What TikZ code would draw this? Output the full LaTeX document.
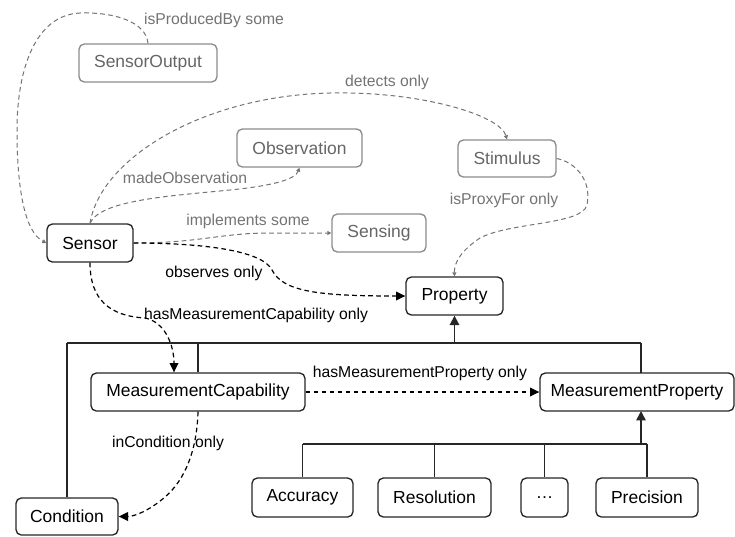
\documentclass[tikz,border=0pt]{standalone}
\usepackage{fontspec}
\setmainfont{Liberation Sans}
\usetikzlibrary{arrows.meta,calc}
\begin{document}
\begin{tikzpicture}[x=0.75pt,y=-0.75pt,
 box/.style={draw=black!85,line width=1pt,rounded corners=4pt,fill=white,font=\fontsize{13.1}{15}\selectfont,inner sep=0pt,text=black,minimum height=28.5pt},
 gbox/.style={box,draw=black!45,text=black!60},
 lbl/.style={font=\fontsize{11.8}{14}\selectfont,inner sep=0pt,text=black},
 glbl/.style={lbl,text=black!55},
 gdash/.style={draw=black!55,line width=0.75pt,dash pattern=on 3.5pt off 2.5pt,-{Triangle[length=3pt,width=3pt]}},
 bdash/.style={draw=black,line width=0.9pt,dash pattern=on 3.5pt off 2.5pt,-{Triangle[length=7pt,width=6.5pt]}},
 sline/.style={draw=black!85,line width=0.8pt},
 tline/.style={draw=black!85,line width=1.3pt},
 sarrow/.style={draw=black!85,line width=1.3pt,-{Triangle[length=7pt,width=7pt]}},
]
\useasboundingbox (0,0) rectangle (735,536);

% nodes
\node[gbox,minimum width=103.5pt] (sout) at (148,63) {SensorOutput};
\node[gbox,minimum width=93.75pt] (obs) at (299.5,148) {Observation};
\node[gbox,minimum width=73.5pt,minimum height=27.75pt] (stim) at (507,158.5) {Stimulus};
\node[gbox,minimum width=70.5pt] (sens) at (379,233) {Sensing};
\node[box,minimum width=64.5pt] (sensor) at (90,243) {Sensor};
\node[box,minimum width=72.75pt] (prop) at (454.5,296) {Property};
\node[box,minimum width=160.5pt] (mc) at (198,392) {MeasurementCapability};
\node[box,minimum width=145.5pt] (mp) at (637,392) {MeasurementProperty};
\node[box,minimum width=76.5pt,minimum height=27.75pt] (cond) at (67,516.5) {Condition};
\node[box,minimum width=75.75pt,minimum height=29.25pt] (acc) at (302.5,497.5) {Accuracy};
\node[box,minimum width=84.75pt,minimum height=29.25pt] (res) at (434.5,497.5) {Resolution};
\node[box,minimum width=35.25pt,minimum height=29.25pt] (dots) at (544.5,497.5) {…};
\node[box,minimum width=76.5pt,minimum height=29.25pt] (prec) at (647,497.5) {Precision};

% labels
\node[glbl] (lprod) at (214,20) {isProducedBy some};
\node[glbl] (ldet) at (387,82) {detects only};
\node[glbl] (lobs) at (185,178) {madeObservation};
\node[glbl] (limp) at (248,221) {implements some};
\node[glbl] (lprox) at (504,200) {isProxyFor only};
\node[lbl] (lobserves) at (214,273) {observes only};
\node[lbl] (lhmc) at (256,315) {hasMeasurementCapability only};
\node[lbl] (lhmp) at (420,373) {hasMeasurementProperty only};
\node[lbl] (linc) at (168,443) {inCondition only};

% hierarchy junctions
\coordinate (jtop) at (454.5,343);
\coordinate (jleft) at (67,343);
\coordinate (jmc) at (198,343);
\coordinate (jmp) at (641,343);
\coordinate (jmpb) at (641,373);
\coordinate (gmp) at (641,444);
\coordinate (gmpt) at (641,411);
\coordinate (gacc) at (302.5,444);
\coordinate (gres) at (434.5,444);
\coordinate (gdots) at (544.5,444);
\coordinate (gprec) at (647,444);

\draw[sline] (jleft) -- (jmp);
\draw[tline] (jmc) -- (jtop);
\draw[sline] (jleft) -- (cond.north);
\draw[sline] (jmc) -- (mc.north);
\draw[sline] (jmp) -- (jmpb);
\draw[sarrow] (jtop) -- (prop.south);

\draw[sline] (gacc) -- (gprec);
\draw[tline] (gdots) -- (gmp);
\draw[sline] (gacc) -- (acc.north);
\draw[sline] (gres) -- (res.north);
\draw[sline] (gdots) -- (dots.north);
\draw[sline] (gprec) -- (prec.north);
\draw[sarrow] (gmp) -- (gmpt);

% gray dashed connectors
\draw[gdash] (sout.north) .. controls (146,22) and (115,12) .. (80,13)
  .. controls (35,15) and (17,70) .. (17,130)
  .. controls (17,190) and (25,232) .. (sensor.west);
\draw[gdash] (sensor.north) .. controls (100,200) and (170,196) .. (230,190)
  .. controls (270,186) and (295,180) .. (obs.south);
\draw[gdash] (sensor.north) .. controls (100,160) and (200,96) .. (330,93)
  .. controls (420,91) and (500,115) .. (stim.north);
\draw[gdash] (sensor.east) .. controls (200,243) and (220,233) .. (270,233) -- (sens.west);
\draw[gdash] (stim.east) .. controls (575,162) and (592,180) .. (587,205)
  .. controls (582,225) and (510,222) .. (480,238)
  .. controls (462,250) and (454,262) .. (prop.north);

% black dashed connectors
\draw[bdash] (sensor.east) .. controls (200,243) and (262,250) .. (272,270)
  .. controls (283,292) and (320,296) .. (prop.west);
\draw[bdash] (sensor.south) .. controls (90,300) and (110,316) .. (145,318)
  .. controls (165,322) and (174,345) .. ($(mc.north)+(-24,0)$);
\draw[bdash] (mc.east) -- (mp.west);
\draw[bdash] (mc.south) .. controls (197,450) and (185,480) .. (165,497)
  .. controls (150,510) and (135,516.5) .. (cond.east);
\end{tikzpicture}
\end{document}
